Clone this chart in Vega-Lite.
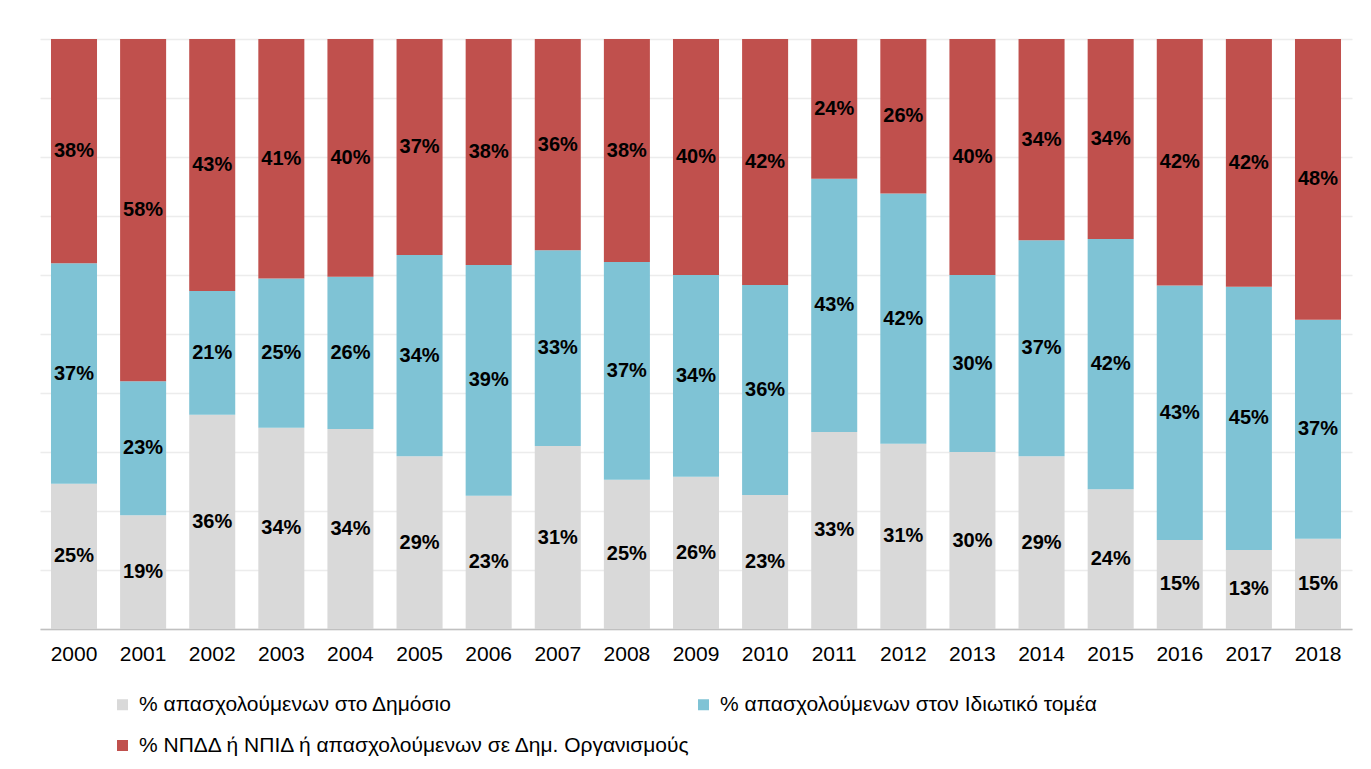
{
  "$schema": "https://vega.github.io/schema/vega-lite/v6.json",
  "width": 1312,
  "height": 590,
  "padding": {"left": 40, "top": 39, "right": 19, "bottom": 10},
  "autosize": {"type": "pad"},
  "background": "white",
  "config": {
    "font": "Liberation Sans",
    "view": {"stroke": null}
  },
  "data": {
    "values": [
      {"year": "2000", "series": "% απασχολούμενων στο Δημόσιο", "order": 1, "value": 0.246},
      {"year": "2000", "series": "% απασχολούμενων στον Ιδιωτικό τομέα", "order": 2, "value": 0.374},
      {"year": "2000", "series": "% ΝΠΔΔ ή ΝΠΙΔ ή απασχολούμενων σε Δημ. Οργανισμούς", "order": 3, "value": 0.380},
      {"year": "2001", "series": "% απασχολούμενων στο Δημόσιο", "order": 1, "value": 0.193},
      {"year": "2001", "series": "% απασχολούμενων στον Ιδιωτικό τομέα", "order": 2, "value": 0.227},
      {"year": "2001", "series": "% ΝΠΔΔ ή ΝΠΙΔ ή απασχολούμενων σε Δημ. Οργανισμούς", "order": 3, "value": 0.580},
      {"year": "2002", "series": "% απασχολούμενων στο Δημόσιο", "order": 1, "value": 0.363},
      {"year": "2002", "series": "% απασχολούμενων στον Ιδιωτικό τομέα", "order": 2, "value": 0.210},
      {"year": "2002", "series": "% ΝΠΔΔ ή ΝΠΙΔ ή απασχολούμενων σε Δημ. Οργανισμούς", "order": 3, "value": 0.427},
      {"year": "2003", "series": "% απασχολούμενων στο Δημόσιο", "order": 1, "value": 0.341},
      {"year": "2003", "series": "% απασχολούμενων στον Ιδιωτικό τομέα", "order": 2, "value": 0.253},
      {"year": "2003", "series": "% ΝΠΔΔ ή ΝΠΙΔ ή απασχολούμενων σε Δημ. Οργανισμούς", "order": 3, "value": 0.406},
      {"year": "2004", "series": "% απασχολούμενων στο Δημόσιο", "order": 1, "value": 0.339},
      {"year": "2004", "series": "% απασχολούμενων στον Ιδιωτικό τομέα", "order": 2, "value": 0.258},
      {"year": "2004", "series": "% ΝΠΔΔ ή ΝΠΙΔ ή απασχολούμενων σε Δημ. Οργανισμούς", "order": 3, "value": 0.403},
      {"year": "2005", "series": "% απασχολούμενων στο Δημόσιο", "order": 1, "value": 0.293},
      {"year": "2005", "series": "% απασχολούμενων στον Ιδιωτικό τομέα", "order": 2, "value": 0.341},
      {"year": "2005", "series": "% ΝΠΔΔ ή ΝΠΙΔ ή απασχολούμενων σε Δημ. Οργανισμούς", "order": 3, "value": 0.366},
      {"year": "2006", "series": "% απασχολούμενων στο Δημόσιο", "order": 1, "value": 0.226},
      {"year": "2006", "series": "% απασχολούμενων στον Ιδιωτικό τομέα", "order": 2, "value": 0.391},
      {"year": "2006", "series": "% ΝΠΔΔ ή ΝΠΙΔ ή απασχολούμενων σε Δημ. Οργανισμούς", "order": 3, "value": 0.383},
      {"year": "2007", "series": "% απασχολούμενων στο Δημόσιο", "order": 1, "value": 0.310},
      {"year": "2007", "series": "% απασχολούμενων στον Ιδιωτικό τομέα", "order": 2, "value": 0.332},
      {"year": "2007", "series": "% ΝΠΔΔ ή ΝΠΙΔ ή απασχολούμενων σε Δημ. Οργανισμούς", "order": 3, "value": 0.358},
      {"year": "2008", "series": "% απασχολούμενων στο Δημόσιο", "order": 1, "value": 0.253},
      {"year": "2008", "series": "% απασχολούμενων στον Ιδιωτικό τομέα", "order": 2, "value": 0.369},
      {"year": "2008", "series": "% ΝΠΔΔ ή ΝΠΙΔ ή απασχολούμενων σε Δημ. Οργανισμούς", "order": 3, "value": 0.378},
      {"year": "2009", "series": "% απασχολούμενων στο Δημόσιο", "order": 1, "value": 0.258},
      {"year": "2009", "series": "% απασχολούμενων στον Ιδιωτικό τομέα", "order": 2, "value": 0.342},
      {"year": "2009", "series": "% ΝΠΔΔ ή ΝΠΙΔ ή απασχολούμενων σε Δημ. Οργανισμούς", "order": 3, "value": 0.400},
      {"year": "2010", "series": "% απασχολούμενων στο Δημόσιο", "order": 1, "value": 0.227},
      {"year": "2010", "series": "% απασχολούμενων στον Ιδιωτικό τομέα", "order": 2, "value": 0.356},
      {"year": "2010", "series": "% ΝΠΔΔ ή ΝΠΙΔ ή απασχολούμενων σε Δημ. Οργανισμούς", "order": 3, "value": 0.417},
      {"year": "2011", "series": "% απασχολούμενων στο Δημόσιο", "order": 1, "value": 0.334},
      {"year": "2011", "series": "% απασχολούμενων στον Ιδιωτικό τομέα", "order": 2, "value": 0.429},
      {"year": "2011", "series": "% ΝΠΔΔ ή ΝΠΙΔ ή απασχολούμενων σε Δημ. Οργανισμούς", "order": 3, "value": 0.237},
      {"year": "2012", "series": "% απασχολούμενων στο Δημόσιο", "order": 1, "value": 0.314},
      {"year": "2012", "series": "% απασχολούμενων στον Ιδιωτικό τομέα", "order": 2, "value": 0.424},
      {"year": "2012", "series": "% ΝΠΔΔ ή ΝΠΙΔ ή απασχολούμενων σε Δημ. Οργανισμούς", "order": 3, "value": 0.262},
      {"year": "2013", "series": "% απασχολούμενων στο Δημόσιο", "order": 1, "value": 0.300},
      {"year": "2013", "series": "% απασχολούμενων στον Ιδιωτικό τομέα", "order": 2, "value": 0.300},
      {"year": "2013", "series": "% ΝΠΔΔ ή ΝΠΙΔ ή απασχολούμενων σε Δημ. Οργανισμούς", "order": 3, "value": 0.400},
      {"year": "2014", "series": "% απασχολούμενων στο Δημόσιο", "order": 1, "value": 0.293},
      {"year": "2014", "series": "% απασχολούμενων στον Ιδιωτικό τομέα", "order": 2, "value": 0.366},
      {"year": "2014", "series": "% ΝΠΔΔ ή ΝΠΙΔ ή απασχολούμενων σε Δημ. Οργανισμούς", "order": 3, "value": 0.341},
      {"year": "2015", "series": "% απασχολούμενων στο Δημόσιο", "order": 1, "value": 0.237},
      {"year": "2015", "series": "% απασχολούμενων στον Ιδιωτικό τομέα", "order": 2, "value": 0.424},
      {"year": "2015", "series": "% ΝΠΔΔ ή ΝΠΙΔ ή απασχολούμενων σε Δημ. Οργανισμούς", "order": 3, "value": 0.339},
      {"year": "2016", "series": "% απασχολούμενων στο Δημόσιο", "order": 1, "value": 0.151},
      {"year": "2016", "series": "% απασχολούμενων στον Ιδιωτικό τομέα", "order": 2, "value": 0.431},
      {"year": "2016", "series": "% ΝΠΔΔ ή ΝΠΙΔ ή απασχολούμενων σε Δημ. Οργανισμούς", "order": 3, "value": 0.418},
      {"year": "2017", "series": "% απασχολούμενων στο Δημόσιο", "order": 1, "value": 0.134},
      {"year": "2017", "series": "% απασχολούμενων στον Ιδιωτικό τομέα", "order": 2, "value": 0.446},
      {"year": "2017", "series": "% ΝΠΔΔ ή ΝΠΙΔ ή απασχολούμενων σε Δημ. Οργανισμούς", "order": 3, "value": 0.420},
      {"year": "2018", "series": "% απασχολούμενων στο Δημόσιο", "order": 1, "value": 0.153},
      {"year": "2018", "series": "% απασχολούμενων στον Ιδιωτικό τομέα", "order": 2, "value": 0.371},
      {"year": "2018", "series": "% ΝΠΔΔ ή ΝΠΙΔ ή απασχολούμενων σε Δημ. Οργανισμούς", "order": 3, "value": 0.476}
    ]
  },
  "transform": [
    {"stack": "value", "groupby": ["year"], "sort": [{"field": "order", "order": "ascending"}], "as": ["v0", "v1"], "offset": "normalize"},
    {"calculate": "(datum.v0 + datum.v1) / 2", "as": "mid"}
  ],
  "encoding": {
    "x": {
      "field": "year",
      "type": "ordinal",
      "title": null,
      "scale": {"paddingInner": 0.334, "paddingOuter": 0.159},
      "axis": {
        "labelAngle": 0,
        "labelFontSize": 21,
        "labelColor": "#000000",
        "labelPadding": 14,
        "ticks": false,
        "tickSize": 0,
        "domainColor": "#c0c0c0",
        "domainWidth": 1.5,
        "grid": false
      }
    }
  },
  "layer": [
    {
      "mark": {"type": "bar"},
      "encoding": {
        "y": {
          "field": "v0",
          "type": "quantitative",
          "scale": {"domain": [0, 1], "nice": false},
          "axis": {
            "labels": false,
            "ticks": false,
            "domain": false,
            "title": null,
            "grid": true,
            "values": [0, 0.1, 0.2, 0.3, 0.4, 0.5, 0.6, 0.7, 0.8, 0.9, 1],
            "gridColor": "#ececec",
            "gridWidth": 1.5
          }
        },
        "y2": {"field": "v1"},
        "color": {
          "field": "series",
          "type": "nominal",
          "scale": {
            "domain": ["% απασχολούμενων στο Δημόσιο", "% απασχολούμενων στον Ιδιωτικό τομέα", "% ΝΠΔΔ ή ΝΠΙΔ ή απασχολούμενων σε Δημ. Οργανισμούς"],
            "range": ["#d9d9d9", "#7fc3d5", "#c0504d"]
          },
          "legend": {
            "title": null,
            "orient": "none",
            "legendX": 72,
            "legendY": 655,
            "columns": 2,
            "columnPadding": -2,
            "rowPadding": 19,
            "values": ["% απασχολούμενων στο Δημόσιο", "% ΝΠΔΔ ή ΝΠΙΔ ή απασχολούμενων σε Δημ. Οργανισμούς", "% απασχολούμενων στον Ιδιωτικό τομέα"],
            "symbolType": "square",
            "symbolSize": 121,
            "symbolStrokeWidth": 0,
            "labelFontSize": 21,
            "labelColor": "#000000",
            "labelOffset": 6,
            "labelLimit": 800
          }
        }
      }
    },
    {
      "mark": {"type": "text", "fontWeight": "bold", "fontSize": 20, "color": "#000000", "baseline": "middle"},
      "encoding": {
        "y": {"field": "mid", "type": "quantitative"},
        "text": {"field": "value", "type": "quantitative", "format": ".0%"}
      }
    }
  ]
}
